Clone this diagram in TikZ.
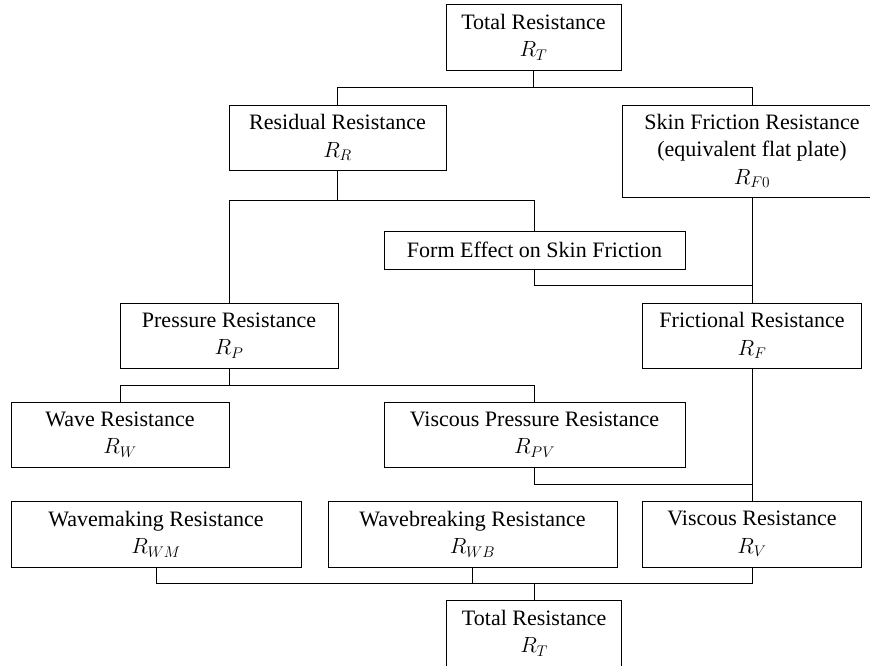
\RequirePackage{fix-cm}
\documentclass[tikz,border=0pt]{standalone}
\usepackage{fontspec}
\setmainfont{Liberation Serif}
\begin{document}
\begin{tikzpicture}[x=1pt,y=-1pt,
  bx/.style={draw, line width=1pt, align=center, inner sep=0pt, font=\fontsize{22}{27.5}\selectfont},
  ln/.style={line width=1pt}]
\useasboundingbox (0,0) rectangle (870,665);
\clip (0,0) rectangle (870,665);
% boxes
\node[bx, minimum width=175pt, minimum height=66pt] (t1) at (533.5,37) {Total Resistance\\$R_T$};
\node[bx, minimum width=217pt, minimum height=65pt] (rr) at (337.5,137.5) {Residual Resistance\\$R_R$};
\node[bx, minimum width=260pt, minimum height=92pt] (sf) at (752,151) {Skin Friction Resistance\\(equivalent flat plate)\\$R_{F0}$};
\node[bx, minimum width=301pt, minimum height=38pt] (fe) at (534.5,250) {Form Effect on Skin Friction};
\node[bx, minimum width=218pt, minimum height=65pt] (p) at (229,335.5) {Pressure Resistance\\$R_P$};
\node[bx, minimum width=219pt, minimum height=65pt] (f) at (752,335.5) {Frictional Resistance\\$R_F$};
\node[bx, minimum width=218pt, minimum height=65pt] (w) at (120,434.5) {Wave Resistance\\$R_W$};
\node[bx, minimum width=301pt, minimum height=65pt] (vp) at (534.5,434.5) {Viscous Pressure Resistance\\$R_{PV}$};
\node[bx, minimum width=290pt, minimum height=66pt] (wm) at (156,534) {Wavemaking Resistance\\$R_{WM}$};
\node[bx, minimum width=289pt, minimum height=66pt] (wb) at (472.5,534) {Wavebreaking Resistance\\$R_{WB}$};
\node[bx, minimum width=219pt, minimum height=66pt] (v) at (752,534) {Viscous Resistance\\$R_V$};
\node[bx, minimum width=175pt, minimum height=66pt] (t2) at (534.2,633) {Total Resistance\\$R_T$};
% junction levels
\coordinate (h1) at (0,87);
\coordinate (h2) at (0,200);
\coordinate (h3) at (0,285);
\coordinate (h4) at (0,385);
\coordinate (h5) at (0,484);
\coordinate (h6) at (0,583);
% connectors
\draw[ln] (t1.south) -- (t1.south |- h1);
\draw[ln] (rr.north) |- (sf.north |- h1) -- (sf.north);
\draw[ln] (rr.south) -- (rr.south |- h2);
\draw[ln] (p.north) |- (fe.north |- h2) -- (fe.north);
\draw[ln] (fe.south) |- (sf.south |- h3);
\draw[ln] (sf.south) -- (f.north);
\draw[ln] (p.south) -- (p.south |- h4);
\draw[ln] (w.north) |- (vp.north |- h4) -- (vp.north);
\draw[ln] (vp.south) |- (f.south |- h5);
\draw[ln] (f.south) -- (v.north);
\draw[ln] (wm.south) |- (v.south |- h6) -- (v.south);
\draw[ln] (wb.south) -- (wb.south |- h6);
\draw[ln] (t2.north) -- (t2.north |- h6);
\end{tikzpicture}
\end{document}
